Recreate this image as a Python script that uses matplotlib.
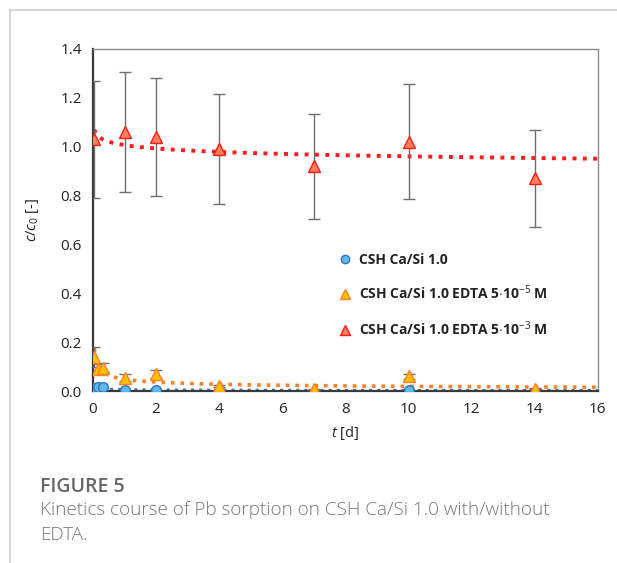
import numpy as np
import matplotlib.pyplot as plt
from matplotlib.lines import Line2D

# sampling times [d]
t_csh = [0.042, 0.167, 0.333, 1, 2, 4, 10]
c_csh = [0.012, 0.016, 0.016, 0.003, 0.003, 0.003, 0.003]

t_low = [0.042, 0.167, 0.333, 1, 2, 4, 7, 10, 14]
c_low = [0.14, 0.09, 0.095, 0.055, 0.07, 0.02, 0.008, 0.06, 0.01]
e_low = [0.04, 0.02, 0.018, 0.013, 0.015, 0.004, 0.002, 0.01, 0.003]

t_high = [0.042, 1, 2, 4, 7, 10, 14]
c_high = [1.03, 1.06, 1.04, 0.99, 0.92, 1.02, 0.87]
e_high = [0.24, 0.245, 0.24, 0.225, 0.215, 0.235, 0.2]

labels = ['CSH Ca/Si 1.0',
          'CSH Ca/Si 1.0 EDTA 5$\\cdot$10$^{-5}$ M',
          'CSH Ca/Si 1.0 EDTA 5$\\cdot$10$^{-3}$ M']

plt.rcParams['font.family'] = ['Open Sans', 'DejaVu Sans']
plt.rcParams['mathtext.fontset'] = 'custom'
plt.rcParams['mathtext.rm'] = 'Open Sans'
plt.rcParams['mathtext.it'] = 'Open Sans:italic'
plt.rcParams['mathtext.bf'] = 'Open Sans:bold'

fig = plt.figure(figsize=(6.17, 5.63), dpi=100)
ax = fig.add_axes([0.1507, 0.3055, 0.8183, 0.6075])

# card border (top and left edges)
fig.add_artist(Line2D([10 / 617, 10 / 617], [0, 1 - 10 / 563], color='#cfcfcf', lw=1.2))
fig.add_artist(Line2D([10 / 617, 1], [1 - 10 / 563, 1 - 10 / 563], color='#cfcfcf', lw=1.2))


def power_fit(t, c):
    b, a = np.polyfit(np.log(t), np.log(c), 1)
    x = np.linspace(min(t), 16, 400)
    return x, np.exp(a) * x ** b


def log_fit(t, c):
    b, a = np.polyfit(np.log(t), c, 1)
    x = np.linspace(min(t), 16, 400)
    return x, a + b * np.log(x)


# trend lines
x, y = power_fit(t_csh, c_csh)
ax.plot(x, y, ':', color='#2e75b6', lw=2.2, zorder=2)
x, y = power_fit(t_low, c_low)
ax.plot(x, y, ':', color='#ff7f27', lw=2.6, zorder=2)
x, y = log_fit(t_high, c_high)
ax.plot(x, y, ':', color='#ff1a1a', lw=2.8, zorder=2)

ax.errorbar(t_low, c_low, yerr=e_low, fmt='none', ecolor='#6e6e6e', elinewidth=1, capsize=4, capthick=1, zorder=3)
ax.errorbar(t_high, c_high, yerr=e_high, fmt='none', ecolor='#6e6e6e', elinewidth=1, capsize=4, capthick=1, zorder=3)

ax.plot(t_csh, c_csh, 'o', ms=7, mfc='#5fb8ec', mec='#2e75b6', mew=1, zorder=4)
ax.plot(t_low, c_low, '^', ms=8, mfc='#ffc000', mec='#ff7f27', mew=1, zorder=5)
ax.plot(t_high, c_high, '^', ms=9, mfc='#ff7f5a', mec='#ff1a1a', mew=1, zorder=5)

ax.set_xlim(0, 16)
ax.set_ylim(0, 1.4)
ax.set_xticks(np.arange(0, 17, 2))
ax.set_yticks(np.arange(0, 1.41, 0.2))
ax.yaxis.set_major_formatter(plt.FormatStrFormatter('%.1f'))
ax.tick_params(length=0, labelsize=11, colors='#222222', pad=8)

for side in ['top', 'right']:
    ax.spines[side].set_color('#8c8c8c')
    ax.spines[side].set_linewidth(1)
for side in ['left', 'bottom']:
    ax.spines[side].set_color('#3a3a3a')
    ax.spines[side].set_linewidth(1.6)

ax.set_xlabel('$t$ [d]', fontsize=10.5, color='#222222', labelpad=5)
ax.set_ylabel('$c$/$c_0$ [-]', fontsize=10.5, color='#222222', labelpad=14)

handles = [
    Line2D([], [], ls='none', marker='o', ms=6, mfc='#5fb8ec', mec='#2e75b6'),
    Line2D([], [], ls='none', marker='^', ms=7, mfc='#ffc000', mec='#ff7f27'),
    Line2D([], [], ls='none', marker='^', ms=7, mfc='#ff7f5a', mec='#ff1a1a'),
]
leg = ax.legend(handles, labels, loc='upper left', bbox_to_anchor=(0.46, 0.44),
                frameon=False, labelspacing=1.2, handletextpad=0.5, handlelength=1.0,
                prop={'size': 10, 'weight': 'bold'})
for txt in leg.get_texts():
    txt.set_color('#222222')

fig.text(40 / 617, 1 - 487 / 563, 'FIGURE 5', fontsize=14, color='#666666',
         fontweight='semibold', va='center')
fig.text(40 / 617, 1 - 510 / 563, 'Kinetics course of Pb sorption on CSH Ca/Si 1.0 with/without',
         fontsize=13.6, color='#777777', fontweight='light', va='center')
fig.text(40 / 617, 1 - 535 / 563, 'EDTA.', fontsize=13.6, color='#777777',
         fontweight='light', va='center')

fig.savefig('out.png', dpi=100)
